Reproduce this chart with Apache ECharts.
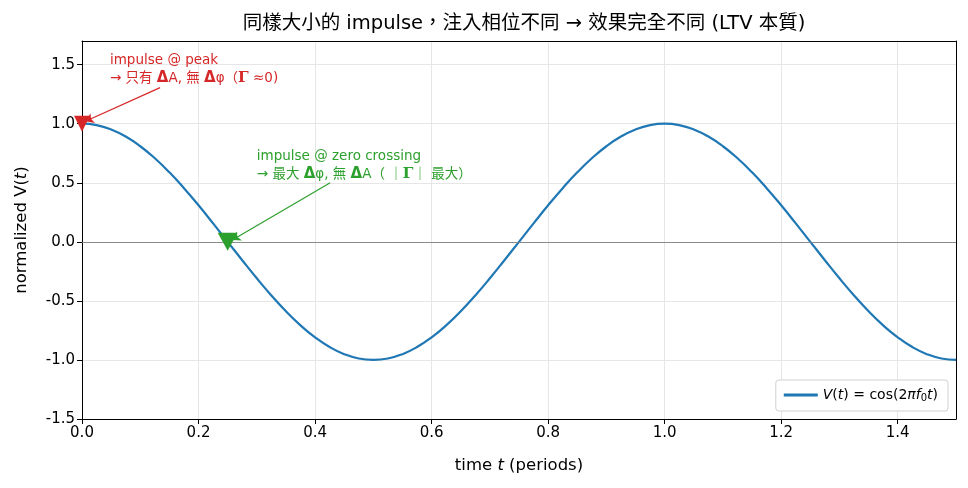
<!DOCTYPE html>
<html>
<head>
<meta charset="utf-8">
<script src="https://cdn.jsdelivr.net/npm/echarts@6/dist/echarts.min.js"></script>
<style>
  html, body { margin: 0; padding: 0; background: #fff; }
  #chart { width: 968px; height: 488px; }
</style>
</head>
<body>
<div id="chart"></div>
<script>
// time in periods, read every 0.025
var tValues = [
  0.000, 0.025, 0.050, 0.075, 0.100, 0.125, 0.150, 0.175, 0.200, 0.225,
  0.250, 0.275, 0.300, 0.325, 0.350, 0.375, 0.400, 0.425, 0.450, 0.475,
  0.500, 0.525, 0.550, 0.575, 0.600, 0.625, 0.650, 0.675, 0.700, 0.725,
  0.750, 0.775, 0.800, 0.825, 0.850, 0.875, 0.900, 0.925, 0.950, 0.975,
  1.000, 1.025, 1.050, 1.075, 1.100, 1.125, 1.150, 1.175, 1.200, 1.225,
  1.250, 1.275, 1.300, 1.325, 1.350, 1.375, 1.400, 1.425, 1.450, 1.475,
  1.500
];
// normalized V(t)
var vValues = [
  1.000, 0.988, 0.951, 0.891, 0.809, 0.707, 0.588, 0.454, 0.309, 0.156,
  0.000, -0.156, -0.309, -0.454, -0.588, -0.707, -0.809, -0.891, -0.951, -0.988,
  -1.000, -0.988, -0.951, -0.891, -0.809, -0.707, -0.588, -0.454, -0.309, -0.156,
  0.000, 0.156, 0.309, 0.454, 0.588, 0.707, 0.809, 0.891, 0.951, 0.988,
  1.000, 0.988, 0.951, 0.891, 0.809, 0.707, 0.588, 0.454, 0.309, 0.156,
  0.000, -0.156, -0.309, -0.454, -0.588, -0.707, -0.809, -0.891, -0.951, -0.988,
  -1.000
];
// impulse points
var peakPoint = [0.0, 1.0];
var zeroPoint = [0.25, 0.0];
// annotation text anchors and arrow tails (data coords)
var peakText = [0.048, 1.458];
var peakArrow = [[0.134, 1.305], [0.006, 1.02]];
var zeroText = [0.300, 0.65];
var zeroArrow = [[0.426, 0.50], [0.258, 0.015]];

var curve = tValues.map(function (t, i) { return [t, vValues[i]]; });

var latin = '"DejaVu Sans", "Noto Sans CJK TC", sans-serif';

function richFor(color) {
  return {
    n: { color: color, fontSize: 13.5, fontFamily: latin, lineHeight: 18 },
    b: { color: color, fontSize: 15, fontFamily: '"DejaVu Sans", sans-serif', fontWeight: 'bold', lineHeight: 18 },
    g: { color: color, fontSize: 15, fontFamily: '"DejaVu Serif", serif', fontWeight: 'bold', lineHeight: 18 }
  };
}

// frame-only axes for the top and right borders
var frameAxis = {
  type: 'value',
  axisLine: { show: true, onZero: false, lineStyle: { color: '#000', width: 1 } },
  axisTick: { show: false },
  axisLabel: { show: false },
  splitLine: { show: false }
};

var option = {
  animation: false,
  title: {
    text: '同樣大小的 impulse，注入相位不同 → 效果完全不同 (LTV 本質)',
    left: 519,
    textAlign: 'center',
    top: 9,
    textStyle: { fontSize: 19.5, fontWeight: 'normal', color: '#000', fontFamily: latin }
  },
  grid: {
    left: 82, right: 12, top: 41, bottom: 69
  },
  legend: {
    right: 20, bottom: 77,
    orient: 'vertical',
    backgroundColor: '#fff',
    borderColor: '#d0d0d0', borderWidth: 1, borderRadius: 3,
    padding: [8, 10, 8, 8],
    itemWidth: 34, itemHeight: 3, itemGap: 8,
    data: [{ name: 'V(t) = cos(2πf0t)', icon: 'rect' }],
    formatter: function () {
      return '{i|V}{n|(}{i|t}{n|) = cos(2}{i|πf}{s|0}{i|t}{n|)}';
    },
    textStyle: {
      rich: {
        n: { fontSize: 14, fontFamily: '"DejaVu Sans", sans-serif', color: '#000' },
        i: { fontSize: 14, fontFamily: '"DejaVu Sans", sans-serif', fontStyle: 'italic', color: '#000' },
        s: { fontSize: 10, fontFamily: '"DejaVu Sans", sans-serif', color: '#000', padding: [6, 0, 0, 0] }
      }
    }
  },
  xAxis: [{
    type: 'value',
    min: 0, max: 1.5, interval: 0.2,
    name: '{n|time }{i|t}{n| (periods)}',
    nameLocation: 'middle', nameGap: 38,
    nameTextStyle: {
      rich: {
        n: { fontSize: 16.5, fontFamily: latin, color: '#000' },
        i: { fontSize: 16.5, fontFamily: latin, fontStyle: 'italic', color: '#000' }
      }
    },
    axisLine: { show: true, onZero: false, lineStyle: { color: '#000' } },
    axisTick: { show: true, length: 5, lineStyle: { color: '#000' } },
    axisLabel: {
      color: '#000', fontSize: 15, fontFamily: latin, margin: 7,
      showMaxLabel: false,
      formatter: function (v) { return v.toFixed(1); }
    },
    splitLine: { show: true, lineStyle: { color: '#e6e6e6' } }
  }, Object.assign({ position: 'top', min: 0, max: 1.5 }, frameAxis)],
  yAxis: [{
    type: 'value',
    min: -1.5, max: 1.7, interval: 0.5,
    name: '{n|normalized V(}{i|t}{n|)}',
    nameLocation: 'middle', nameGap: 52,
    nameTextStyle: {
      rich: {
        n: { fontSize: 16.5, fontFamily: latin, color: '#000' },
        i: { fontSize: 16.5, fontFamily: latin, fontStyle: 'italic', color: '#000' }
      }
    },
    axisLine: { show: true, onZero: false, lineStyle: { color: '#000' } },
    axisTick: { show: true, length: 5, lineStyle: { color: '#000' } },
    axisLabel: {
      color: '#000', fontSize: 15, fontFamily: latin, margin: 7,
      showMaxLabel: false,
      formatter: function (v) { return v.toFixed(1); }
    },
    splitLine: { show: true, lineStyle: { color: '#e6e6e6' } }
  }, Object.assign({ position: 'right', min: -1.5, max: 1.7 }, frameAxis)],
  series: [
    {
      name: 'V(t) = cos(2πf0t)',
      type: 'line',
      data: curve,
      showSymbol: false,
      smooth: true,
      lineStyle: { color: '#1f77b4', width: 2.2 },
      itemStyle: { color: '#1f77b4' },
      z: 3,
      markLine: {
        silent: true,
        symbol: 'none',
        label: { show: false },
        lineStyle: { color: '#808080', width: 0.9, type: 'solid' },
        data: [{ yAxis: 0 }]
      }
    },
    {
      name: 'peak',
      type: 'scatter',
      data: [peakPoint],
      symbol: 'triangle', symbolRotate: 180, symbolSize: [16, 16],
      itemStyle: { color: '#d62728', opacity: 1 },
      z: 5,
      markLine: {
        silent: true,
        symbol: ['none', 'arrow'], symbolSize: 8,
        label: { show: false },
        lineStyle: { color: '#d62728', width: 1.2, type: 'solid', opacity: 1 },
        data: [[{ coord: peakArrow[0] }, { coord: peakArrow[1] }]]
      }
    },
    {
      name: 'zero',
      type: 'scatter',
      data: [zeroPoint],
      symbol: 'triangle', symbolRotate: 180, symbolSize: [20, 18],
      itemStyle: { color: '#2ca02c', opacity: 1 },
      z: 5,
      markLine: {
        silent: true,
        symbol: ['none', 'arrow'], symbolSize: 8,
        label: { show: false },
        lineStyle: { color: '#2ca02c', width: 1.2, type: 'solid', opacity: 1 },
        data: [[{ coord: zeroArrow[0] }, { coord: zeroArrow[1] }]]
      }
    },
    {
      name: 'peakText',
      type: 'scatter',
      data: [peakText],
      symbolSize: 0,
      silent: true,
      itemStyle: { opacity: 1 },
      label: {
        show: true, position: 'inside', align: 'left', verticalAlign: 'middle',
        formatter: '{n|impulse @ peak}\n{n|→ 只有 }{b|Δ}{n|A, 無 }{b|Δ}{n|φ（}{g|Γ}{n| ≈0)}',
        rich: richFor('#d62728')
      }
    },
    {
      name: 'zeroText',
      type: 'scatter',
      data: [zeroText],
      symbolSize: 0,
      silent: true,
      itemStyle: { opacity: 1 },
      label: {
        show: true, position: 'inside', align: 'left', verticalAlign: 'middle',
        formatter: '{n|impulse @ zero crossing}\n{n|→ 最大 }{b|Δ}{n|φ, 無 }{b|Δ}{n|A（ ｜}{g|Γ}{n|｜ 最大）}',
        rich: richFor('#2ca02c')
      }
    }
  ]
};

var myChart = echarts.init(document.getElementById('chart'));
myChart.setOption(option);
</script>
</body>
</html>
